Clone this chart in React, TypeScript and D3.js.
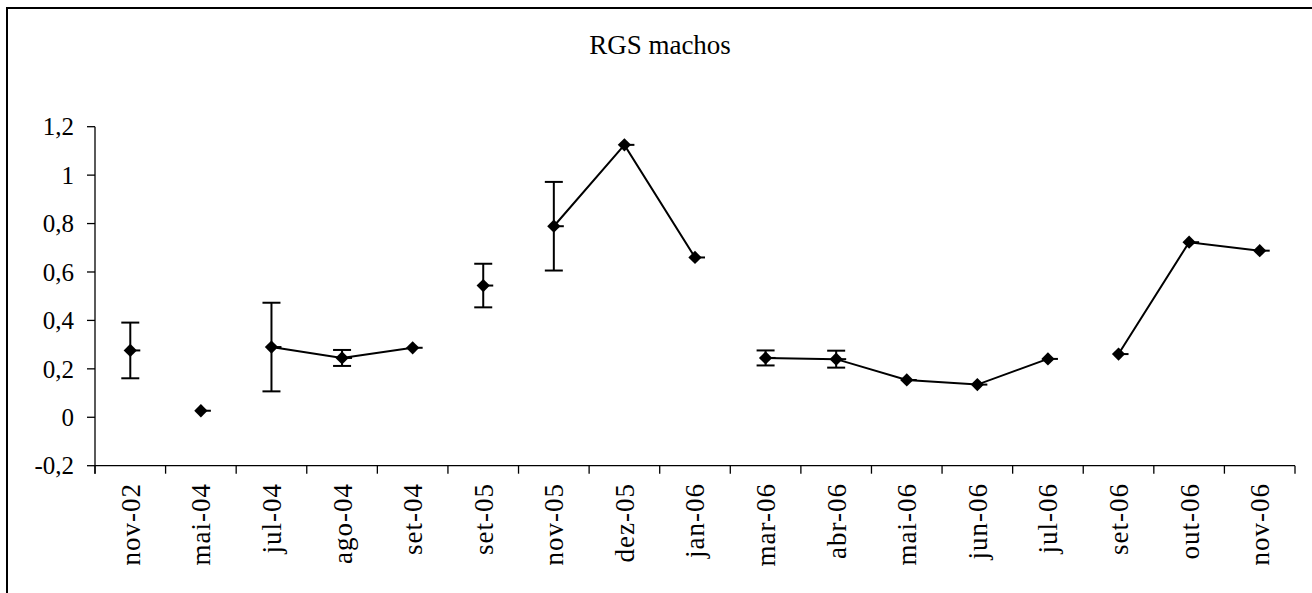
import React from "react";
import * as d3 from "d3";

const categories = ["nov-02","mai-04","jul-04","ago-04","set-04","set-05","nov-05","dez-05","jan-06","mar-06","abr-06","mai-06","jun-06","jul-06","set-06","out-06","nov-06"];
const values = [0.276,0.027,0.29,0.245,0.287,0.544,0.789,1.125,0.66,0.245,0.24,0.154,0.135,0.241,0.261,0.723,0.688];
const errors: (number | null)[] = [0.115,null,0.183,0.033,null,0.09,0.183,null,null,0.031,0.035,null,null,null,null,null,null];
// line segment group per point (points only connected within same group)
const groups = [0,1,2,2,2,3,4,4,4,5,5,5,5,5,6,6,6];
const yTickValues = [-0.2,0,0.2,0.4,0.6,0.8,1,1.2];
const yTickLabels = ["-0,2","0","0,2","0,4","0,6","0,8","1","1,2"];
const title = "RGS machos";

const W = 1312, H = 593;
const FONT = "Liberation Serif";

export default function App() {
  const x = d3.scaleBand<string>().domain(categories).range([95, 1295]).padding(0);
  const y = d3.scaleLinear().domain([-0.2, 1.2]).range([465.7, 126.7]);
  const cx = (i: number) => (x(categories[i]) as number) + x.bandwidth() / 2;

  const groupIds = Array.from(new Set(groups));
  const segs = groupIds.map(g => {
    const idx = values.map((_, i) => i).filter(i => groups[i] === g);
    const gen = d3.line<number>().x(i => cx(i)).y(i => y(values[i]));
    return idx.length > 1 ? gen(idx) : null;
  }).filter(Boolean) as string[];

  const diamond = d3.symbol().type(d3.symbolDiamond2).size(2 * 7.5 * 7.5)();
  const boundaries = categories.map(c => x(c) as number).concat([x.range()[1]]);

  return (
    <svg width={W} height={H} style={{ position: "absolute", left: 0, top: 0, background: "#fff" }}>
      <rect x={7} y={8} width={W + 10} height={H + 10} fill="none" stroke="#000" strokeWidth={2} />
      <text x={660} y={54} textAnchor="middle" fontFamily={FONT} fontSize={27} fill="#000">{title}</text>

      {/* axes */}
      <line x1={95} x2={95} y1={y(1.2)} y2={y(-0.2) + 8} stroke="#000" strokeWidth={1.3} />
      <line x1={95} x2={1295} y1={y(-0.2)} y2={y(-0.2)} stroke="#000" strokeWidth={1.3} />
      {yTickValues.map((v, i) => (
        <g key={"yt" + i}>
          <line x1={87} x2={95} y1={y(v)} y2={y(v)} stroke="#000" strokeWidth={1.3} />
          <text x={74} y={y(v)} dy="0.35em" textAnchor="end" fontFamily={FONT} fontSize={25} fill="#000">{yTickLabels[i]}</text>
        </g>
      ))}
      {boundaries.map((b, i) => (
        <line key={"xt" + i} x1={b} x2={b} y1={y(-0.2)} y2={y(-0.2) + 8} stroke="#000" strokeWidth={1.3} />
      ))}
      {categories.map((c, i) => (
        <text key={"xl" + i} transform={`translate(${cx(i)},${483}) rotate(-90)`} dy="0.35em" textAnchor="end" fontFamily={FONT} fontSize={27} letterSpacing={1} fill="#000">{c}</text>
      ))}

      {/* lines */}
      {segs.map((d, i) => <path key={"s" + i} d={d} fill="none" stroke="#000" strokeWidth={2} />)}

      {/* error bars */}
      {errors.map((e, i) => e == null ? null : (
        <g key={"e" + i} stroke="#000" strokeWidth={2}>
          <line x1={cx(i)} x2={cx(i)} y1={y(values[i] + e)} y2={y(values[i] - e)} />
          <line x1={cx(i) - 9} x2={cx(i) + 9} y1={y(values[i] + e)} y2={y(values[i] + e)} />
          <line x1={cx(i) - 9} x2={cx(i) + 9} y1={y(values[i] - e)} y2={y(values[i] - e)} />
        </g>
      ))}

      {/* markers */}
      {values.map((v, i) => (
        <g key={"m" + i} transform={`translate(${cx(i)},${y(v)})`}>
          <path d={diamond as string} fill="#000" />
          <line x1={0} x2={10} y1={0} y2={0} stroke="#000" strokeWidth={2} />
        </g>
      ))}
    </svg>
  );
}
